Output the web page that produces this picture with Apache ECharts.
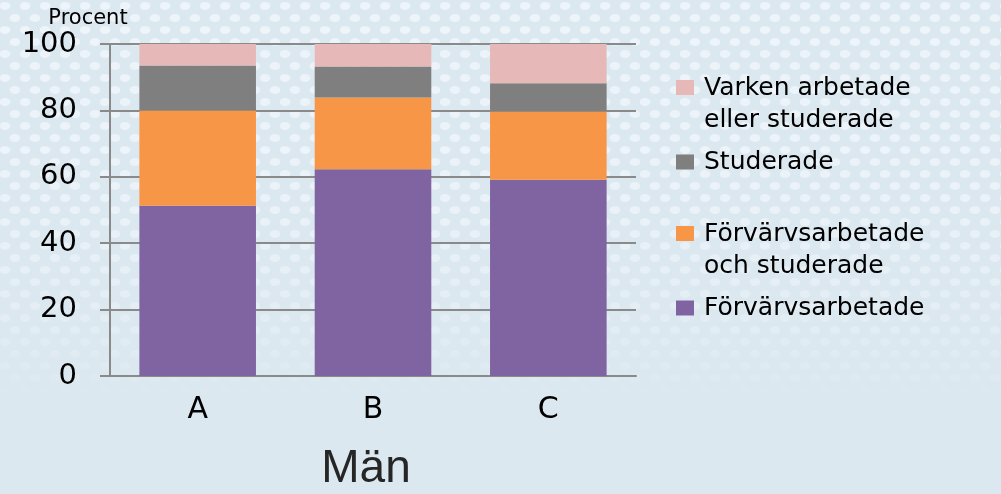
<!DOCTYPE html>
<html>
<head>
<meta charset="utf-8">
<script src="https://cdn.jsdelivr.net/npm/echarts@6/dist/echarts.min.js"></script>
<style>
html,body{margin:0;padding:0;background:#dce8f0;}
#wrap{position:relative;width:1001px;height:494px;overflow:hidden;}
#dots{position:absolute;left:0;top:0;width:1001px;height:494px;
background-image:
 radial-gradient(ellipse 6px 4.5px at 5px 6px, rgba(238,245,250,0.95) 75%, rgba(238,245,250,0) 100%),
 radial-gradient(ellipse 6px 4.5px at 15px 18px, rgba(238,245,250,0.95) 75%, rgba(238,245,250,0) 100%);
background-size:20px 24px;
-webkit-mask-image:linear-gradient(to bottom, rgba(0,0,0,1) 0%, rgba(0,0,0,0.85) 40%, rgba(0,0,0,0.3) 70%, rgba(0,0,0,0) 82%);
mask-image:linear-gradient(to bottom, rgba(0,0,0,1) 0%, rgba(0,0,0,0.85) 40%, rgba(0,0,0,0.3) 70%, rgba(0,0,0,0) 82%);}
#chart{position:absolute;left:0;top:0;width:1001px;height:494px;}
</style>
</head>
<body>
<div id="wrap"><div id="dots"></div><div id="chart"></div></div>
<script>
const categories = ['A', 'B', 'C'];
const seriesNames = [
  'Förvärvsarbetade',
  'Förvärvsarbetade\noch studerade',
  'Studerade',
  'Varken arbetade\neller studerade'
];
const forvarvsarbetade = [51.3, 62.3, 59.1];
const forvarvsOchStuderade = [28.7, 21.6, 20.6];
const studerade = [13.5, 9.3, 8.5];
const varken = [6.5, 6.8, 11.8];
const yTicks = [0, 20, 40, 60, 80, 100];
const colors = ['#8064A2', '#F79646', '#7F7F7F', '#E6B9B8'];
const values = [forvarvsarbetade, forvarvsOchStuderade, studerade, varken];

const chart = echarts.init(document.getElementById('chart'), null, {renderer: 'canvas'});
const tallIcon = 'path://M0,0L18,0L18,15L0,15Z M23,48L23,48';
const shortIcon = 'path://M0,0L18,0L18,15L0,15Z M23,15L23,15';
const legendText = {fontFamily: 'DejaVu Sans', fontSize: 25, color: '#000', lineHeight: 32};
function legendItem(name, top, twoLine) {
  return {
    data: [name], left: 676, top: top, orient: 'vertical', padding: 0,
    icon: twoLine ? tallIcon : shortIcon, itemWidth: 23, itemHeight: twoLine ? 48 : 15,
    itemGap: 0, textStyle: legendText, selectedMode: false
  };
}
chart.setOption({
  backgroundColor: 'transparent',
  animation: false,
  textStyle: {fontFamily: 'DejaVu Sans'},
  grid: {left: 110, right: 365, top: 44, bottom: 118, containLabel: false, outerBoundsMode: 'none'},
  legend: [
    legendItem(seriesNames[3], 72, true),
    legendItem(seriesNames[2], 146, false),
    legendItem(seriesNames[1], 218, true),
    legendItem(seriesNames[0], 292, false)
  ],
  xAxis: {
    type: 'category', data: categories,
    axisLine: {lineStyle: {color: '#8a8a8a', width: 2}},
    axisTick: {show: false},
    axisLabel: {fontFamily: 'DejaVu Sans', fontSize: 30, color: '#000', margin: 19},
    name: 'Män', nameLocation: 'middle', nameGap: 70,
    nameTextStyle: {fontFamily: 'Liberation Sans', fontSize: 46, color: '#262626', padding: [0, 14, 0, 0]}
  },
  yAxis: {
    type: 'value', min: yTicks[0], max: yTicks[yTicks.length - 1], interval: 20,
    axisLine: {show: true, lineStyle: {color: '#8a8a8a', width: 2}},
    axisTick: {show: true, length: 10, lineStyle: {color: '#8a8a8a', width: 2}},
    splitLine: {show: true, lineStyle: {color: '#8a8a8a', width: 2}},
    axisLabel: {fontFamily: 'DejaVu Sans', fontSize: 29, color: '#000', margin: 33},
    name: 'Procent', nameLocation: 'end', nameGap: 15,
    nameTextStyle: {fontFamily: 'DejaVu Sans', fontSize: 21, color: '#000', align: 'center', padding: [0, 44, 0, 0]}
  },
  series: seriesNames.map((n, i) => ({
    name: n, type: 'bar', stack: 'total', data: values[i],
    barCategoryGap: '33.5%',
    itemStyle: {color: colors[i]},
    emphasis: {disabled: true}
  }))
});
</script>
</body>
</html>
